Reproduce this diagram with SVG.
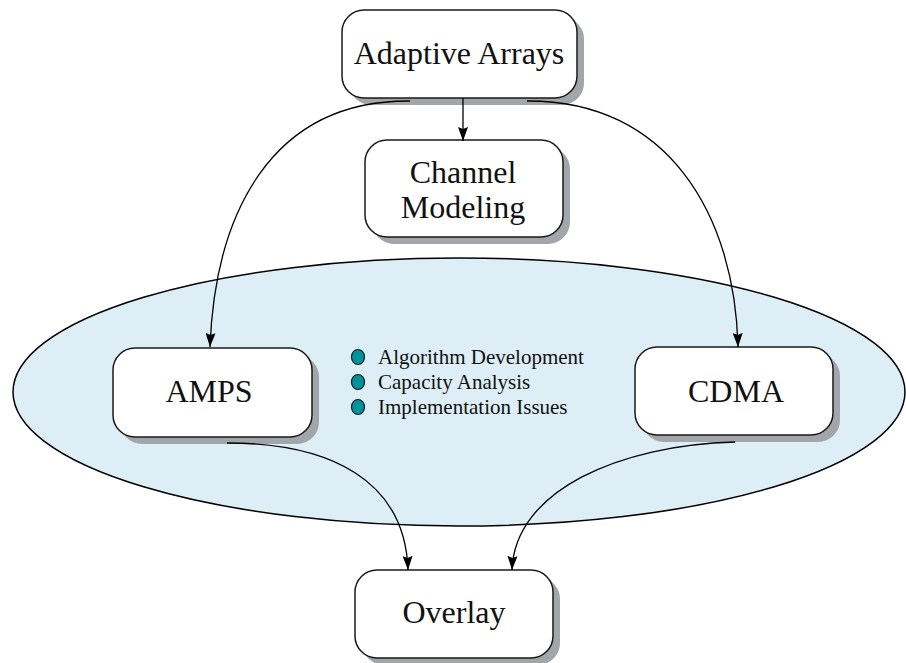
<svg xmlns="http://www.w3.org/2000/svg" width="906" height="663" viewBox="0 0 906 663">
<defs>
<style>
.shadow{fill:#a2a5aa;stroke:none}
.box{fill:#ffffff;stroke:#1a1a1a;stroke-width:1.5}
.lbl{font-family:"Liberation Serif","Times New Roman",serif;font-size:32px;fill:#111;text-anchor:middle}
.item{font-family:"Liberation Serif","Times New Roman",serif;font-size:21px;fill:#111}
.bullet{fill:#00939b;stroke:#1a1a1a;stroke-width:1.2}
.conn{fill:none;stroke:#000;stroke-width:1.3}
</style>
<marker id="arr" viewBox="0 0 14 10" refX="14" refY="5" markerWidth="14" markerHeight="10" markerUnits="userSpaceOnUse" orient="auto">
<path d="M0,0 L14,5 L0,10 L2,5 Z" fill="#000"/>
</marker>
</defs>
<rect width="906" height="663" fill="#ffffff"/>
<g id="region">
<ellipse cx="459" cy="392" rx="446" ry="134" fill="#ddeef6" stroke="#000" stroke-width="1.5"/>
</g>
<g id="adaptive-arrays">
<rect class="shadow" x="349" y="17" width="235" height="88" rx="22"/>
<rect class="box" x="342" y="10" width="235" height="88" rx="22"/>
<text class="lbl" x="459" y="64">Adaptive Arrays</text>
</g>
<g id="channel-modeling">
<rect class="shadow" x="372" y="147" width="198" height="97" rx="22"/>
<rect class="box" x="365" y="140" width="198" height="97" rx="22"/>
<text class="lbl" x="463" y="183">Channel</text>
<text class="lbl" x="463" y="218">Modeling</text>
</g>
<g id="amps">
<rect class="shadow" x="120" y="355" width="199" height="89" rx="22"/>
<rect class="box" x="113" y="348" width="199" height="89" rx="22"/>
<text class="lbl" x="209" y="402">AMPS</text>
</g>
<g id="cdma">
<rect class="shadow" x="642" y="354" width="198" height="88" rx="22"/>
<rect class="box" x="635" y="347" width="198" height="88" rx="22"/>
<text class="lbl" x="736" y="402">CDMA</text>
</g>
<g id="overlay">
<rect class="shadow" x="362" y="577" width="198" height="88" rx="22"/>
<rect class="box" x="355" y="570" width="198" height="88" rx="22"/>
<text class="lbl" x="454" y="623">Overlay</text>
</g>
<g id="topics">
<ellipse class="bullet" cx="358" cy="357" rx="6.5" ry="7.5"/>
<ellipse class="bullet" cx="358" cy="382" rx="6.5" ry="7.5"/>
<ellipse class="bullet" cx="358" cy="407" rx="6.5" ry="7.5"/>
<text class="item" x="378" y="364">Algorithm Development</text>
<text class="item" x="378" y="389">Capacity Analysis</text>
<text class="item" x="378" y="414">Implementation Issues</text>
</g>
<g id="connectors">
<path class="conn" d="M463,98 L463,141" marker-end="url(#arr)"/>
<path class="conn" d="M410,101 C270,100 215,215 210,347" marker-end="url(#arr)"/>
<path class="conn" d="M527,101 C668,100 735,215 738,347" marker-end="url(#arr)"/>
<path class="conn" d="M227,443 C330,443 405,480 408,570" marker-end="url(#arr)"/>
<path class="conn" d="M735,442 C620,445 515,490 512,570" marker-end="url(#arr)"/>
</g>
</svg>
